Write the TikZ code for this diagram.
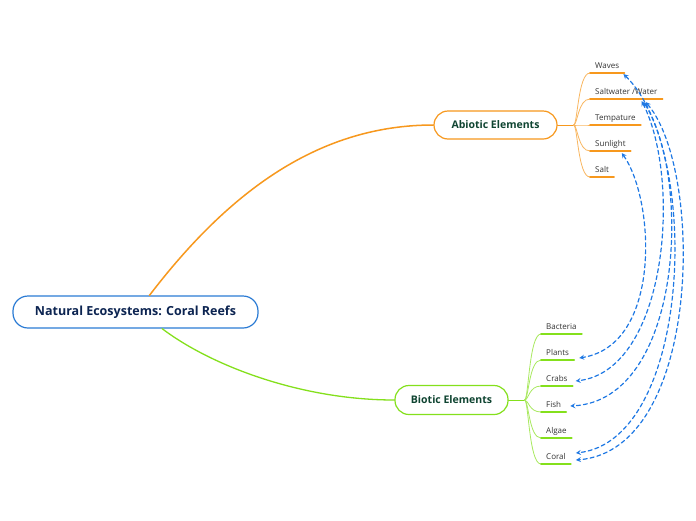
\documentclass[tikz,border=0pt]{standalone}
\usepackage{fontspec}
\setmainfont{Open Sans}
\definecolor{rootblue}{HTML}{2B7BD4}
\definecolor{rootink}{HTML}{0C2451}
\definecolor{abioorange}{HTML}{F7981D}
\definecolor{biogreen}{HTML}{84E01C}
\definecolor{boxink}{HTML}{0F4431}
\definecolor{relblue}{HTML}{1E78E4}
\begin{document}
\begin{tikzpicture}[x=1pt,y=-1pt,>=stealth, line join=round, line cap=round,
	mainbox/.style={draw, fill=white, rounded corners=14pt, line width=1.2pt, text=boxink, font=\fontsize{10.5}{12}\selectfont\bfseries},
	leaf/.style={anchor=south west, inner xsep=5pt, inner ysep=4pt, text depth=0pt, text=black!80, font=\fontsize{8}{9}\selectfont},
	rel/.style={draw=relblue, <->, dash pattern=on 4pt off 3pt, line width=1.2pt}]
	\useasboundingbox[fill=white] (0,0) rectangle (696,520);
	\node (root) at (135.5,312) [draw=rootblue, fill=white, rounded corners=15pt, line width=1.2pt, minimum width=245pt, minimum height=32pt, text=rootink, font=\fontsize{12.5}{14}\selectfont\bfseries]{Natural Ecosystems: Coral Reefs};
	\node (abio) at (495.5,125) [mainbox, draw=abioorange, minimum width=123pt, minimum height=28pt]{Abiotic Elements};
	\node (bio) at (451.5,400) [mainbox, draw=biogreen, minimum width=113pt, minimum height=29pt]{Biotic Elements};
	\draw[abioorange, line width=1.5pt] (root.50) .. controls (230,190) and (320,125) .. (abio.west);
	\draw[biogreen, line width=1.3pt] (root.-32) .. controls (210,365) and (300,400) .. (bio.west);
	\draw[abioorange, line width=1pt] (abio.east) -- ++(16,0) coordinate (aj);
	\draw[biogreen, line width=1pt] (bio.east) -- ++(16,0) coordinate (bj);
	\foreach \y/\t/\n in {73/Waves/wav, 99/{Saltwater /Water}/salw, 125/Tempature/temp, 151/Sunlight/sun, 177/Salt/salt}
	{\node (\n) at (590,\y) [leaf]{\t};
		\draw[abioorange!70, line width=0.8pt] (aj) .. controls +(4,0) and +(-12,0) .. (\n.south west);
		\draw[abioorange, line width=1.6pt] (\n.south west) -- (\n.south east);}
	\foreach \y/\t/\n in {334/Bacteria/bact, 360/Plants/plan, 386/Crabs/crab, 412/Fish/fish, 438/Algae/alg, 464/Coral/cor}
	{\node (\n) at (541,\y) [leaf]{\t};
		\draw[biogreen!70, line width=0.8pt] (bj) .. controls +(4,0) and +(-12,0) .. (\n.south west);
		\draw[biogreen, line width=1.6pt] (\n.south west) -- (\n.south east);}
	\draw[rel] ([xshift=-9pt,yshift=-2pt]sun.south east) .. controls (655,200) and (662,345) .. ([xshift=5pt,yshift=2pt]plan.south east);
	\draw[rel] ([xshift=-21pt,yshift=-2pt]salw.south east) .. controls (682,180) and (667,370) .. ([xshift=3pt,yshift=5pt]crab.south east);
	\draw[rel] ([xshift=-19pt,yshift=-3pt]salw.south east) .. controls (692,180) and (682,400) .. ([xshift=4pt,yshift=6pt]fish.south east);
	\draw[rel] ([xshift=-1pt,yshift=-1pt]wav.south east) .. controls (702,150) and (692,440) .. ([xshift=5pt,yshift=11pt]cor.south east);
	\draw[rel] ([xshift=-17pt,yshift=-3pt]salw.south east) .. controls (704,170) and (702,450) .. ([xshift=5pt,yshift=4pt]cor.south east);
\end{tikzpicture}
\end{document}
